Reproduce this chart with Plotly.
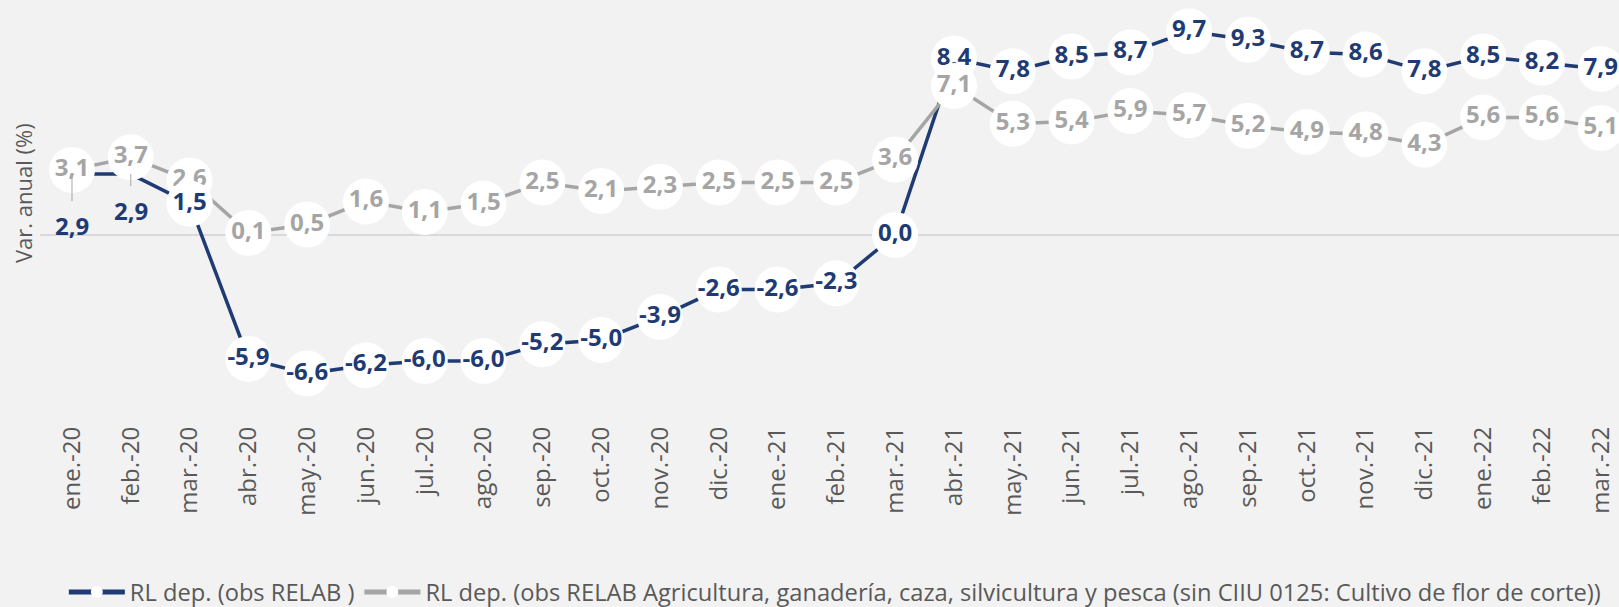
import plotly.graph_objects as go

months = ["ene.-20", "feb.-20", "mar.-20", "abr.-20", "may.-20", "jun.-20", "jul.-20",
          "ago.-20", "sep.-20", "oct.-20", "nov.-20", "dic.-20", "ene.-21", "feb.-21",
          "mar.-21", "abr.-21", "may.-21", "jun.-21", "jul.-21", "ago.-21", "sep.-21",
          "oct.-21", "nov.-21", "dic.-21", "ene.-22", "feb.-22", "mar.-22"]
rl_total = [2.9, 2.9, 1.5, -5.9, -6.6, -6.2, -6.0, -6.0, -5.2, -5.0, -3.9, -2.6, -2.6, -2.3,
            0.0, 8.4, 7.8, 8.5, 8.7, 9.7, 9.3, 8.7, 8.6, 7.8, 8.5, 8.2, 7.9]
rl_agro = [3.1, 3.7, 2.6, 0.1, 0.5, 1.6, 1.1, 1.5, 2.5, 2.1, 2.3, 2.5, 2.5, 2.5,
           3.6, 7.1, 5.3, 5.4, 5.9, 5.7, 5.2, 4.9, 4.8, 4.3, 5.6, 5.6, 5.1]
name_total = "RL dep. (obs RELAB )"
name_agro = "RL dep. (obs RELAB Agricultura, ganadería, caza, silvicultura y pesca (sin CIIU 0125: Cultivo de flor de corte))"

BLUE = "#1f3b73"
GRAY = "#a5a5a5"
TXT = "#595959"
FONT = "Open Sans"
LBL = 24

# labels displaced below with leader lines (index -> pixel offset)
displaced = {0: 51, 1: 36}
# points where the blue label sits in front of the gray one
blue_front = [2]

def fmt(v):
    return f"{v:.1f}".replace(".", ",")

x = list(range(len(months)))
fig = go.Figure()

fig.add_trace(go.Scatter(x=x, y=rl_total, mode="lines+markers", name=name_total,
                         line=dict(color=BLUE, width=3.5),
                         marker=dict(color="white", size=12),
                         hoverinfo="skip"))
fig.add_trace(go.Scatter(x=x, y=rl_agro, mode="lines+markers", name=name_agro,
                         line=dict(color=GRAY, width=3.5),
                         marker=dict(color="white", size=12),
                         hoverinfo="skip"))

def label_trace(idx, ys, color):
    return go.Scatter(x=[x[i] for i in idx], y=[ys[i] for i in idx], mode="markers+text",
                      showlegend=False,
                      marker=dict(color="white", size=46, line=dict(width=0)),
                      text=[fmt(ys[i]) for i in idx], textposition="middle center",
                      textfont=dict(family=FONT, size=LBL, color=color, weight="bold"),
                      cliponaxis=False, hoverinfo="skip")

blue_idx = [i for i in x if i not in displaced]
fig.add_trace(label_trace(blue_idx, rl_total, BLUE))
fig.add_trace(label_trace(x, rl_agro, GRAY))
fig.add_trace(label_trace(blue_front, rl_total, BLUE))

for i, off in displaced.items():
    fig.add_annotation(x=x[i], y=rl_total[i], text=fmt(rl_total[i]),
                       showarrow=True, arrowhead=0, arrowwidth=1, arrowcolor=GRAY,
                       ax=0, ay=off, startstandoff=6,
                       font=dict(family=FONT, size=LBL, color=BLUE, weight="bold"))

fig.add_annotation(xref="paper", yref="paper", x=-0.0108, y=0.526,
                   xanchor="center", yanchor="middle",
                   text="Var. anual (%)", showarrow=False, textangle=-90,
                   font=dict(family=FONT, size=22, color=TXT))

fig.update_layout(
    width=1619, height=607,
    paper_bgcolor="#f2f2f2", plot_bgcolor="#f2f2f2",
    margin=dict(l=40, r=0, t=4, b=204, autoexpand=False),
    font=dict(family=FONT, color=TXT),
    showlegend=True,
    legend=dict(orientation="h", x=0.0151, y=-0.474, xanchor="left", yanchor="middle",
                font=dict(family=FONT, size=23.7, color=TXT),
                bgcolor="rgba(0,0,0,0)", itemsizing="constant", itemwidth=56,
                tracegroupgap=0),
    xaxis=dict(range=[-0.544, 26.31], tickmode="array", tickvals=x, ticktext=months,
               tickangle=-90, showgrid=False, zeroline=False, showline=False, ticks="",
               ticklabelstandoff=18,
               tickfont=dict(family=FONT, size=24, color=TXT)),
    yaxis=dict(range=[-8, 11], showticklabels=False, showgrid=False,
               zeroline=True, zerolinecolor="#d9d9d9", zerolinewidth=1.5,
               ticks=""),
)

fig.write_html("out.html", config={"displayModeBar": False},
               post_script="document.body.style.margin='0px';")
